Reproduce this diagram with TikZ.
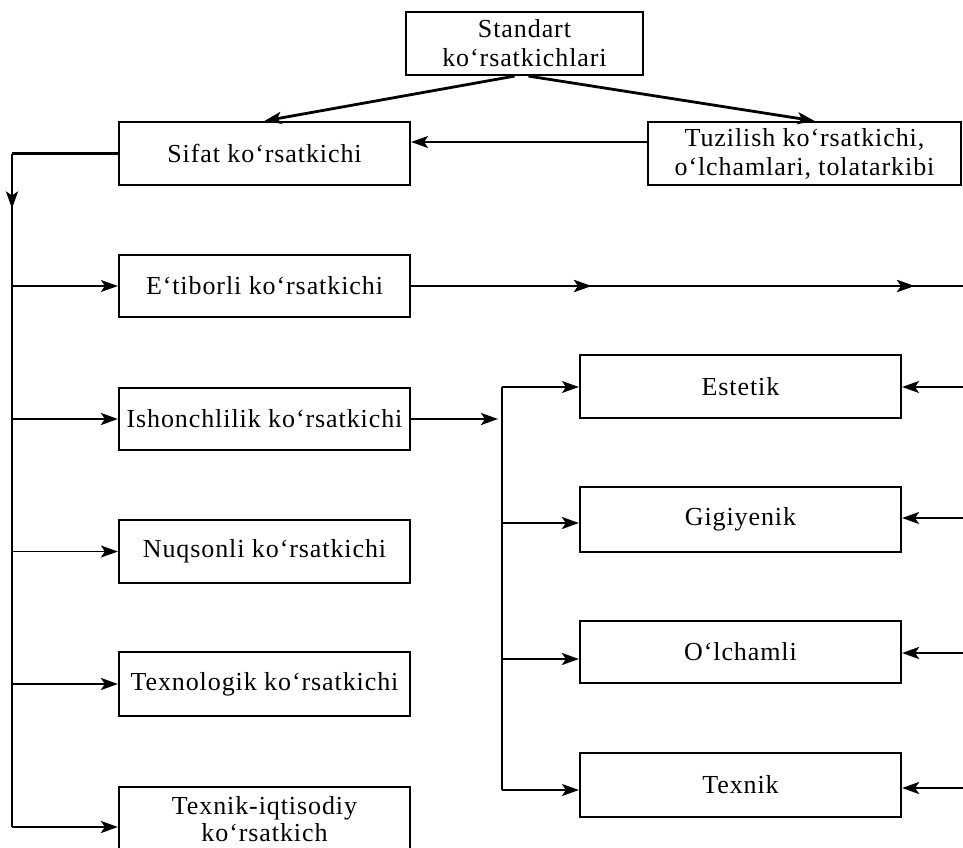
\documentclass[tikz,border=0pt]{standalone}
\usepackage{fontspec}
\setmainfont{Liberation Serif}[LetterSpace=3.5]
\usetikzlibrary{arrows.meta,decorations.markings,calc}
\begin{document}
\begin{tikzpicture}[x=1pt,y=-1pt,
  box/.style={draw, line width=2.2pt, rectangle, inner sep=0pt, align=center,
    font=\fontsize{26}{29}\selectfont},
  thickln/.style={line width=2.8pt},
  thinln/.style={line width=1.5pt},
  arr/.style={-{Stealth[length=17pt,width=12pt,inset=4pt]}},
  midarrows/.style={postaction={decorate}, decoration={markings,
     mark=at position #1 with {\arrow{Stealth[length=17pt,width=12pt,inset=4pt]}}}}
]
\fill[white] (0,0) rectangle (963,847);
\clip (0,0) rectangle (963,847);

% boxes
\node[box, minimum width=237pt, minimum height=63pt] (std) at (524.5,43.5) {Standart\\ko‘rsatkichlari};
\node[box, minimum width=291pt, minimum height=63pt] (sifat) at (264.5,153.5) {Sifat ko‘rsatkichi};
\node[box, minimum width=313pt, minimum height=63pt] (tuz) at (804.5,153.5) {Tuzilish ko‘rsatkichi,\\o‘lchamlari, tolatarkibi};
\node[box, minimum width=291pt, minimum height=62pt] (etib) at (264.5,286) {E‘tiborli ko‘rsatkichi};
\node[box, minimum width=291pt, minimum height=62pt] (ishon) at (264.5,419) {Ishonchlilik ko‘rsatkichi};
\node[box, minimum width=291pt, minimum height=63pt] (nuq) at (264.5,551.5) {Nuqsonli ko‘rsatkichi};
\node[box, minimum width=291pt, minimum height=64pt] (texnol) at (264.5,684) {Texnologik ko‘rsatkichi};
\node[box, minimum width=291pt, minimum height=65pt, font=\fontsize{26}{28}\selectfont] (texiq) at (264.5,819.5) {Texnik-iqtisodiy\\[-1pt]ko‘rsatkich};
\node[box, minimum width=321pt, minimum height=63pt] (est) at (740.5,386.5) {Estetik};
\node[box, minimum width=321pt, minimum height=65pt] (gig) at (740.5,519.5) {Gigiyenik};
\node[box, minimum width=321pt, minimum height=62pt] (olch) at (740.5,652) {O‘lchamli};
\node[box, minimum width=321pt, minimum height=64pt] (texnik) at (740.5,785) {Texnik};

% top connectors
\draw[thickln,arr] ($(std.south)+(-10,0)$) -- (sifat.north);
\draw[thickln,arr] ($(std.south)+(4,0)$) -- ($(tuz.north)+(10,0)$);
\draw[thinln,arr] ([yshift=11.5pt]tuz.west) -- ([yshift=11.5pt]sifat.east);

% left trunk
\coordinate (L1) at (12,153.5);
\coordinate (L2) at (12,827);
\draw[thickln] (sifat.west) -- (L1);
\draw[thickln, midarrows=55pt] (L1) -- (L2);
\draw[thinln,arr] (etib.west -| L1) -- (etib.west);
\draw[thickln,arr] (ishon.west -| L1) -- (ishon.west);
\draw[thinln,arr] (nuq.west -| L1) -- (nuq.west);
\draw[thickln,arr] (texnol.west -| L1) -- (texnol.west);
\draw[thickln,arr] (L2) -- (L2 -| texiq.west);

% E'tiborli line to the right
\coordinate (ER) at (970,286);
\draw[thinln, midarrows=180pt, midarrows=503pt] (etib.east) -- (ER);

% Ishonchlilik branch
\coordinate (B1) at (502,387);
\coordinate (B2) at (502,790);
\coordinate (BJ) at (498,419);
\coordinate (G1) at (502,523);
\coordinate (O1) at (502,659);
\draw[thickln,arr] (ishon.east) -- (BJ);
\draw[thickln] (B1) -- (B2);
\draw[thinln,arr] (B1) -- (B1 -| est.west);
\draw[thickln,arr] (G1) -- (G1 -| gig.west);
\draw[thickln,arr] (O1) -- (O1 -| olch.west);
\draw[thinln,arr] (B2) -- (B2 -| texnik.west);

% right-side inputs
\coordinate (R1) at (970,387);
\coordinate (R2) at (970,518);
\coordinate (R3) at (970,653);
\coordinate (R4) at (970,788);
\draw[thinln,arr] (R1) -- (R1 -| est.east);
\draw[thinln,arr] (R2) -- (R2 -| gig.east);
\draw[thickln,arr] (R3) -- (R3 -| olch.east);
\draw[thickln,arr] (R4) -- (R4 -| texnik.east);
\end{tikzpicture}
\end{document}
